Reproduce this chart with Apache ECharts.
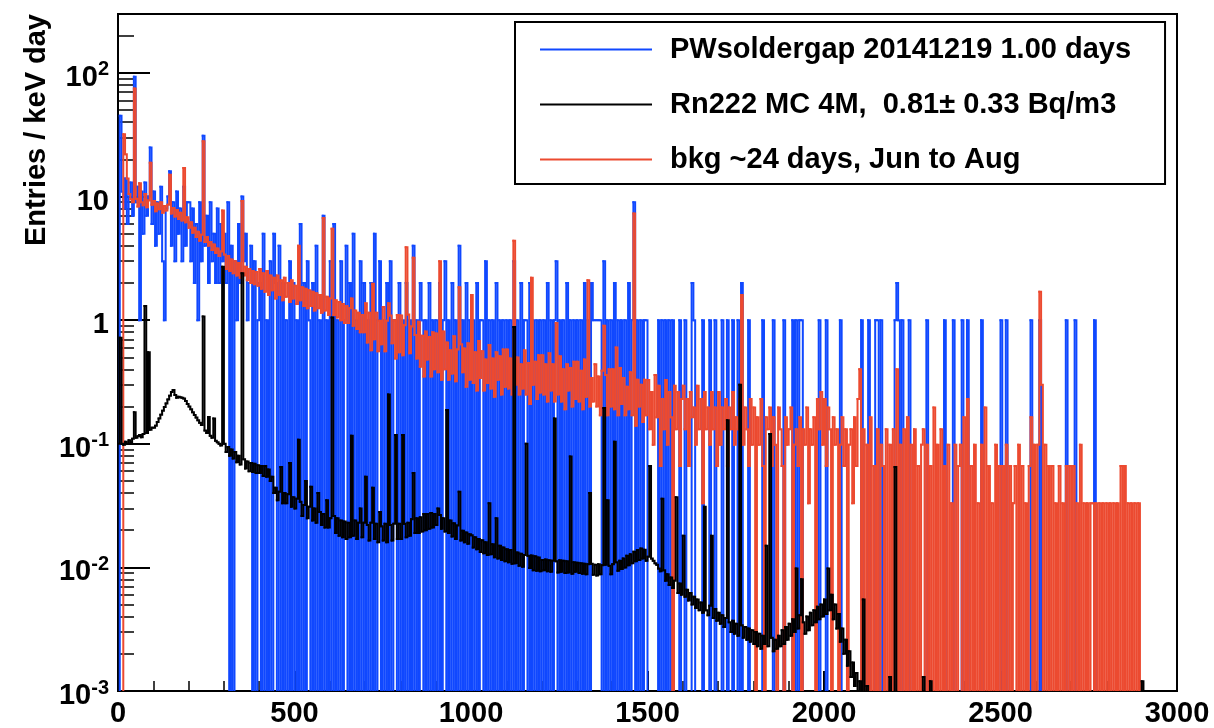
<!DOCTYPE html>
<html>
<head>
<meta charset="utf-8">
<script src="https://cdn.jsdelivr.net/npm/echarts@6/dist/echarts.min.js"></script>
<style>
  html, body { margin: 0; padding: 0; background: #fff; }
  #chart { width: 1214px; height: 728px; }
</style>
</head>
<body>
<div id="chart"></div>
<script>
// ---------------- DATA (5 keV bins, starting at 0 keV) ----------------
const BIN_KEV = 5;

const seriesNames = [
  'PWsoldergap 20141219 1.00 days',
  'Rn222 MC 4M,  0.81\u00b1 0.33 Bq/m3',
  'bkg ~24 days, Jun to Aug'
];

// Blue: counts / keV / day in the 1-day run
const blueCounts = [
  0,45,11,8,14,6,10,13,7,93,9,12,1,11,5,13,7,10,25,6,
  11,4,9,5,12,3,1,8,10,16,4,9,3,11,5,8,3,12,4,9,
  9,3,8,2,6,1,9,3,31,4,7,2,9,3,5,2,8,2,6,3,
  5,2,9,0,4,0,3,1,6,2,10,3,5,1,2,4,0,3,0,1,
  2,0,5,0,1,0,3,0,5,2,0,4,0,2,0,1,0,3,0,2,
  0,1,0,6,0,2,0,3,1,0,2,0,4,0,1,0,7,0,1,0,
  3,0,6,0,1,0,3,0,1,4,0,2,0,5,0,1,0,3,0,2,
  0,1,0,2,0,5,0,1,3,0,1,0,2,0,3,0,1,1,0,2,
  0,1,0,2,0,1,0,4,0,1,0,2,1,0,1,0,2,0,1,0,
  1,0,2,0,1,3,0,1,0,2,0,1,0,4,0,1,0,2,0,1,
  0,1,0,2,0,1,1,0,3,0,1,0,1,0,2,0,1,0,1,0,
  1,0,1,0,3,0,1,0,2,0,1,1,0,2,0,1,0,1,0,1,
  0,1,0,2,0,1,0,1,3,0,1,0,1,0,2,0,1,0,1,0,
  1,0,1,0,2,0,1,0,2,1,1,1,1,1,0,3,0,1,0,1,
  0,2,0,1,0,1,0,1,0,2,0,1,9,0,1,0,1,0,1,1,
  0,0,0,0,0,0,1,0,1,0,1,0,1,0,1,0,0,0,1,0,
  0,1,0,0,0,2,1,0,0,0,0,1,0,0,0,1,0,0,1,0,
  0,0,1,0,0,1,0,0,1,0,0,1,0,2,0,0,0,1,0,0,
  0,0,0,0,0,1,0,0,0,0,0,1,0,0,0,0,0,1,0,0,
  0,0,1,0,1,0,1,1,0,0,0,0,0,0,0,0,0,1,0,0,
  0,1,0,0,0,0,0,0,0,1,0,0,0,0,0,0,0,0,0,0,
  0,1,0,0,0,1,0,0,0,1,1,0,1,0,0,0,0,0,0,0,
  1,2,1,0,1,0,0,0,1,0,0,0,0,0,0,0,0,0,1,0,
  0,0,0,0,0,0,0,0,1,0,0,0,0,1,0,0,0,0,1,0,
  0,1,0,0,0,0,0,0,0,1,0,0,0,0,0,0,0,0,0,0,
  1,0,0,1,0,0,0,0,0,0,0,0,0,0,0,0,0,1,0,0,
  0,0,1,0,0,0,0,0,0,0,0,0,0,0,0,0,0,1,0,0,
  0,0,1,0,0,0,0,0,0,0,0,0,0,1,0,0,0,0,0,0,
  0,0,0,0,0,0,0,0,0,0,0,0,0,0,0,0,0,0,0,0,
  0,0,0,0,0,0,0,0,0,0,0,0,0,0,0,0,0,0,0,0
];

// Red: background, entries / keV day (~24 days)
const redRate = [
  0,0,0,32,22,14,10.5,9.5,9,75,9.6,8.3,12.8,9,8.5,10.5,8.2,9.3,18.8,8.6,
  9.2,7.6,8.8,7.9,9.0,7.4,8.4,7.7,8.6,15,7.3,8.1,6.9,7.8,6.6,7.4,6.4,17,6.2,6.8,
  5.6,6.2,5.1,5.6,4.7,5.2,4.4,4.9,28,4.3,4.7,4.0,4.3,3.7,4.1,3.5,3.8,3.3,3.6,7.7,
  3.4,2.6,3.3,2.5,3.1,2.4,3.0,2.3,2.9,2.2,9.2,2.3,2.7,2.1,2.6,2.0,2.5,1.95,2.45,1.9,
  2.6,1.8,2.4,1.7,2.5,1.6,2.3,1.75,2.2,1.5,2.3,1.6,2.1,1.45,2.2,1.55,2.0,1.4,2.1,1.5,
  1.9,1.35,4.0,1.45,1.85,1.3,1.8,1.25,1.75,1.3,1.7,1.2,1.65,1.25,1.6,1.15,6.7,1.2,1.55,1.1,
  1.5,5.5,1.1,1.45,1.05,1.4,1.0,1.35,0.95,1.3,0.95,1.25,1.5,0.9,1.2,0.85,1.15,0.8,1.1,0.8,
  1.37,0.66,1.15,0.57,1.97,0.7,1.15,0.56,0.99,0.64,1.28,0.56,0.99,1.37,1.09,0.65,1.0,0.49,1.1,0.55,
  1.09,0.52,0.91,3.9,1.11,0.54,0.89,3.2,0.76,0.49,0.97,0.42,0.75,0.35,0.81,0.48,0.73,0.35,0.8,0.4,
  0.78,0.38,3.0,0.33,0.81,0.4,0.66,0.33,0.57,0.37,0.74,0.32,0.58,1.85,0.64,0.38,0.59,0.29,0.65,0.33,
  1.6,0.31,0.55,0.27,0.68,0.34,0.56,0.27,0.48,0.31,0.63,0.28,0.49,0.24,0.55,0.33,0.51,0.25,0.58,0.29,
  0.58,0.28,0.49,0.25,4.4,0.3,0.5,0.25,0.44,0.28,0.57,0.25,0.45,0.21,2.2,0.3,0.46,0.23,0.52,0.26,
  0.52,0.25,0.44,0.22,0.54,0.27,0.44,0.22,0.95,0.25,0.51,0.22,0.4,0.19,0.44,0.27,0.41,0.2,0.46,0.23,
  0.46,0.22,0.39,0.19,0.48,0.24,2.1,0.2,0.34,0.22,0.44,0.2,0.35,0.17,0.39,0.9,0.36,0.17,0.4,0.2,
  0.4,0.19,0.6,0.17,0.41,0.21,0.34,0.17,0.29,0.19,0.38,0.17,7.3,0.14,0.33,0.2,0.3,0.15,0.33,0.17,
  0.328,0.131,0.262,0.098,0.36,0.164,0.295,0.066,0.23,0.131,0.328,0.098,0.262,0.164,0,0.295,0.131,0.262,0.066,0.23,
  0.295,0.131,0.23,0.066,0.262,0.164,0.197,0.098,0.295,0.131,0.23,0.033,0.262,0.131,0.197,0.098,0.262,0.131,0.197,0.066,
  0.262,0.098,0.197,0.131,0.23,0.066,0.197,0.131,0.262,0.098,0.164,0.131,0.23,1.6,0.098,0.197,0.131,0.066,0.23,0.098,
  0.197,0,0.164,0.098,0.23,0.066,0,0.164,0.131,0.197,0.066,0.164,0.098,0,0.197,0.131,0.066,0,0.164,0.098,
  0.131,0.197,0,0.098,0.131,0.066,0.164,0,0.131,0.098,0.197,0.033,0.131,0.098,0.164,0,0.23,0.131,0.262,0.098,
  0.23,0.066,0.197,0.131,0,0.164,0.098,0.131,0,0.098,0.164,0.066,0.131,0,0.098,0.131,0.033,0.164,0.066,0.23,
  0.4,0,0.131,0,0.098,0,0.164,0,0.066,0,0.131,0,0.098,0.066,0,0.131,0,0.098,0,0.131,
  0,0.4,0,0.098,0,0.131,0,0.164,0,0.098,0,0.131,0,0.066,0,0.098,0.131,0,0.098,0,
  0.066,0,0.197,0,0.098,0,0.131,0,0.066,0,0.098,0,0.033,0,0.098,0,0.066,0.098,0,0.164,
  0,0.23,0,0.066,0,0.098,0,0.033,0,0.098,0,0.197,0,0.066,0,0.033,0,0.098,0,0.066,
  0,0.066,0,0.098,0,0.066,0,0.033,0.066,0,0.098,0,0.066,0,0.033,0,0.066,0.164,0,0.098,
  0,0.098,1.7,0.3,0,0.098,0,0.066,0,0.066,0,0.033,0,0.066,0,0.033,0,0.066,0,0.066,
  0,0.066,0,0.033,0,0.098,0,0.033,0,0.033,0,0.033,0.033,0,0.033,0,0.033,0,0.033,0,
  0.033,0,0.033,0,0.033,0,0.033,0,0.066,0,0.066,0,0.033,0,0.033,0,0.033,0,0.033,0,
  0,0,0,0,0,0,0,0,0,0,0,0,0,0,0,0,0,0,0,0
];

// Black: Rn222 Monte Carlo, entries / keV day
const blackRate = [
  0.1,0.72,0.1,0.098,0.104,0.1,0.107,0.103,0.11,0.18,0.112,0.115,0.118,0.113,0.12,1.3,0.122,0.55,0.13,0.135,
  0.135,0.14,0.15,0.16,0.172,0.185,0.198,0.212,0.228,0.245,0.262,0.272,0.248,0.236,0.24,0.238,0.236,0.232,0.222,0.21,
  0.2,0.19,0.18,0.171,0.163,0.155,0.148,0.142,1.07,0.128,0.122,0.165,0.116,0.112,0.16,0.106,0.103,0.1,0.097,2.7,
  0.1,0.086,0.094,0.08,0.09,0.076,0.086,0.071,0.08,0.068,2.4,0.075,0.063,0.072,0.06,0.07,0.059,0.069,0.058,0.067,
  0.058,0.066,0.055,0.066,0.054,0.062,0.05,0.054,0.04,0.044,0.035,0.041,0.065,0.033,0.04,0.033,0.039,0.07,0.031,0.037,
  0.03,0.036,0.108,0.034,0.026,0.032,0.05,0.025,0.031,0.045,0.024,0.03,0.023,0.04,0.028,0.022,0.027,0.021,0.035,0.021,
  0.025,1.05,0.026,0.019,0.025,0.018,0.024,0.0175,0.0235,0.017,0.023,0.0175,0.116,0.018,0.024,0.017,0.023,0.03,0.0175,0.023,
  0.054,0.022,0.0165,0.023,0.044,0.017,0.0225,0.016,0.028,0.0215,0.0165,0.0225,0.016,0.25,0.022,0.0165,0.0225,0.118,0.017,0.0225,
  0.017,0.118,0.0225,0.0175,0.023,0.018,0.0245,0.058,0.019,0.025,0.019,0.0255,0.0195,0.027,0.02,0.027,0.0205,0.0275,0.021,0.027,
  0.022,0.03,0.0265,0.0205,0.025,0.0195,0.188,0.019,0.024,0.0178,0.0228,0.017,0.0218,0.041,0.0165,0.0198,0.016,0.0192,0.0155,0.0185,
  0.0182,0.0145,0.0175,0.014,0.017,0.0133,0.0166,0.013,0.016,0.0126,0.033,0.0128,0.0154,0.0121,0.025,0.0118,0.015,0.0115,0.0145,0.0112,
  0.014,0.011,0.0138,0.0107,0.88,0.0108,0.0132,0.0103,0.0129,0.0101,0.0126,0.1,0.0124,0.0099,0.0125,0.0095,0.0123,0.0094,0.012,0.0093,
  0.0115,0.0095,0.0116,0.0093,0.0114,0.0092,0.0113,0.16,0.0112,0.0091,0.0114,0.0092,0.0113,0.009,0.0112,0.0091,0.079,0.0089,0.011,0.0092,
  0.0109,0.009,0.0108,0.0089,0.0107,0.0088,0.0106,0.04,0.0107,0.0087,0.0105,0.0086,0.0106,0.0088,0.0104,0.195,0.0105,0.035,0.0103,0.0088,
  0.0106,0.104,0.011,0.0094,0.0113,0.0097,0.0118,0.01,0.0124,0.0104,0.0128,0.0108,0.0134,0.0112,0.0138,0.0115,0.0142,0.0118,0.0139,0.0113,
  0.0122,0.066,0.0118,0.0113,0.0108,0.0105,0.0098,0.0093,0.036,0.0095,0.0078,0.0088,0.0072,0.0083,0.0068,0.0078,0.037,0.0062,0.0074,0.006,
  0.018,0.0058,0.0066,0.0054,0.0062,0.005,0.0058,0.0047,0.0055,0.0045,0.0052,0.0043,0.031,0.0045,0.0041,0.0049,0.018,0.0039,0.0046,0.0037,
  0.0043,0.0035,0.0041,0.0033,0.0039,0.155,0.0036,0.003,0.0037,0.0029,0.0035,0.0028,0.3,0.0034,0.0027,0.0033,0.0026,0.0032,0.0025,0.0031,
  0.0024,0.003,0.0023,0.0029,0.0022,0.0028,0.0024,0.015,0.0023,0.12,0.0027,0.0021,0.0026,0.0022,0.0028,0.0023,0.0031,0.0024,0.0033,0.0026,
  0.0035,0.0028,0.0038,0.003,0.0098,0.0032,0.0041,0.008,0.0036,0.0029,0.004,0.0031,0.0043,0.0034,0.0045,0.0036,0.0048,0.0038,0.005,0.004,
  0.0055,0.0042,0.0098,0.0045,0.006,0.0038,0.005,0.0032,0.0042,0.0025,0.0032,0.002,0.0026,0.0016,0.0021,0.0013,0.0017,0.0011,0.0014,0,
  0.0012,0,0.0055,0,0.0011,0,0,0,0,0,0,0,0,0,0,0,0,0.0013,0,0,
  0.065,0,0,0,0,0,0,0,0,0,0,0,0,0,0,0,0.0013,0,0,0,
  0.0012,0,0,0,0,0,0,0,0,0,0,0,0,0,0,0,0,0,0,0,
  0,0,0,0,0,0,0,0,0,0,0,0,0,0,0,0,0,0,0,0,
  0,0,0,0,0,0,0,0,0,0,0,0,0,0,0,0,0,0,0,0,
  0,0,0,0,0,0,0,0,0,0,0,0,0,0,0,0,0,0,0,0,
  0,0,0,0,0,0,0,0,0,0,0,0,0,0,0,0,0,0,0,0,
  0,0,0,0,0,0,0,0,0,0,0,0,0,0,0,0,0,0,0,0,
  0.0012,0,0,0,0,0,0,0,0,0,0,0,0,0,0,0,0,0,0,0
];

// Axis tick values / labels
const xMajorTickValues = [0, 500, 1000, 1500, 2000, 2500, 3000];
const xMinorTickValues = [100,200,300,400,600,700,800,900,1100,1200,1300,1400,1600,1700,1800,1900,
                          2100,2200,2300,2400,2600,2700,2800,2900];
const yTickValues = [0.001, 0.01, 0.1, 1, 10, 100];
const yTickBase   = ['10', '10', '10', '1', '10', '10'];
const yTickExp    = ['-3', '-2', '-1', '', '', '2'];
const yMinorTickValues = [
  0.002,0.003,0.004,0.005,0.006,0.007,0.008,0.009,
  0.02,0.03,0.04,0.05,0.06,0.07,0.08,0.09,
  0.2,0.3,0.4,0.5,0.6,0.7,0.8,0.9,
  2,3,4,5,6,7,8,9,
  20,30,40,50,60,70,80,90,
  200
];

// ---------------- CHART ----------------
const FONT = '"Liberation Sans", Arial, Helvetica, sans-serif';
const Y_MIN = 0.001, Y_MAX = 300;
const ZERO_FLOOR = 1e-7; // empty bins drop below the frame and are clipped

function binData(values) {
  return values.map((v, i) => [i * BIN_KEV, v > 0 ? v : ZERO_FLOOR]);
}

const colors = { blue: '#1048ff', black: '#000000', red: '#ec4a30' };

// Each bin: horizontal top edge, then vertical step to the next bin's content
function histRenderer(color, width) {
  return function (params, api) {
    const i = params.dataIndexInside;
    const x0 = api.value(0);
    const y0 = api.value(1);
    const x1 = x0 + BIN_KEV;
    const isLast = i >= params.dataInsideLength - 1;
    const yNext = isLast ? ZERO_FLOOR : api.value(1, i + 1);
    const p0 = api.coord([x0, y0]);
    const p1 = api.coord([x1, y0]);
    const p2 = api.coord([x1, yNext]);
    return {
      type: 'polyline',
      shape: { points: [p0, p1, p2] },
      style: { stroke: color, lineWidth: width, fill: null, lineCap: 'square', lineJoin: 'miter' },
      silent: true
    };
  };
}

function histSeries(name, values, color, width) {
  return {
    name: name,
    type: 'custom',
    coordinateSystem: 'cartesian2d',
    data: binData(values),
    encode: { x: 0, y: 1 },
    renderItem: histRenderer(color, width),
    clip: true,
    color: color,
    itemStyle: { color: color },
    silent: true,
    progressive: 0,
    animation: false
  };
}

const chart = echarts.init(document.getElementById('chart'), null, { renderer: 'canvas' });

const axisLabelFont = { color: '#000', fontFamily: FONT, fontSize: 29, fontWeight: 'bold' };

chart.setOption({
  animation: false,
  backgroundColor: '#ffffff',
  grid: {
    left: 118, right: 37, top: 14, bottom: 36,
    show: true, borderColor: '#000', borderWidth: 2, backgroundColor: 'transparent'
  },
  legend: {
    left: 515, top: 22, orient: 'vertical',
    backgroundColor: '#fff', borderColor: '#000', borderWidth: 2, borderRadius: 0,
    padding: [13, 34, 10, 25], itemGap: 26,
    itemWidth: 112, itemHeight: 2, icon: 'rect',
    selectedMode: false,
    textStyle: { fontFamily: FONT, fontSize: 29, fontWeight: 'bold', color: '#000', padding: [0, 0, 0, 13] },
    data: seriesNames
  },
  xAxis: [
    {
      type: 'value', min: 0, max: 3000, interval: 500,
      axisLine: { lineStyle: { color: '#000', width: 2 } },
      axisTick: { inside: true, length: 20, lineStyle: { color: '#000', width: 2 }, customValues: xMajorTickValues },
      splitLine: { show: false },
      axisLabel: Object.assign({ margin: 8, customValues: xMajorTickValues, formatter: function (v) { return String(v); } }, axisLabelFont)
    },
    {
      type: 'value', min: 0, max: 3000, interval: 500, position: 'bottom',
      axisLine: { show: false },
      axisTick: { inside: true, length: 10, lineStyle: { color: '#000', width: 1.5 }, customValues: xMinorTickValues },
      axisLabel: { show: false },
      splitLine: { show: false }
    }
  ],
  yAxis: [
    {
      type: 'log', logBase: 10, min: Y_MIN, max: Y_MAX,
      axisLine: { show: true, lineStyle: { color: '#000', width: 2 } },
      axisTick: { inside: true, length: 32, lineStyle: { color: '#000', width: 2 }, customValues: yTickValues },
      minorTick: { show: false },
      splitLine: { show: false },
      axisLabel: {
        customValues: yTickValues,
        margin: 9,
        padding: [10, 0, 0, 0],
        formatter: function (v) {
          let idx = -1;
          for (let i = 0; i < yTickValues.length; i++) {
            if (Math.abs(Math.log10(yTickValues[i]) - Math.log10(v)) < 1e-6) idx = i;
          }
          if (idx < 0) return '';
          return yTickExp[idx] ? '{b|' + yTickBase[idx] + '}{s|' + yTickExp[idx] + '}' : '{b|' + yTickBase[idx] + '}';
        },
        rich: {
          b: { fontFamily: FONT, fontSize: 29, fontWeight: 'bold', color: '#000', lineHeight: 36 },
          s: { fontFamily: FONT, fontSize: 20, fontWeight: 'bold', color: '#000', lineHeight: 20, verticalAlign: 'top' }
        }
      }
    },
    {
      type: 'log', logBase: 10, min: Y_MIN, max: Y_MAX, position: 'left',
      axisLine: { show: false },
      axisTick: { inside: true, length: 16, lineStyle: { color: '#000', width: 1.5 }, customValues: yMinorTickValues },
      axisLabel: { show: false },
      minorTick: { show: false },
      splitLine: { show: false }
    }
  ],
  graphic: [{
    type: 'text', x: 37, y: 14, rotation: Math.PI / 2,
    style: {
      text: 'Entries / keV day',
      font: 'bold 29px ' + FONT,
      fill: '#000',
      align: 'right', verticalAlign: 'middle',
      textAlign: 'right', textVerticalAlign: 'middle'
    }
  }],
  series: [
    histSeries(seriesNames[0], blueCounts, colors.blue, 2),
    histSeries(seriesNames[2], redRate, colors.red, 2),
    histSeries(seriesNames[1], blackRate, colors.black, 2)
  ]
});
</script>
</body>
</html>
